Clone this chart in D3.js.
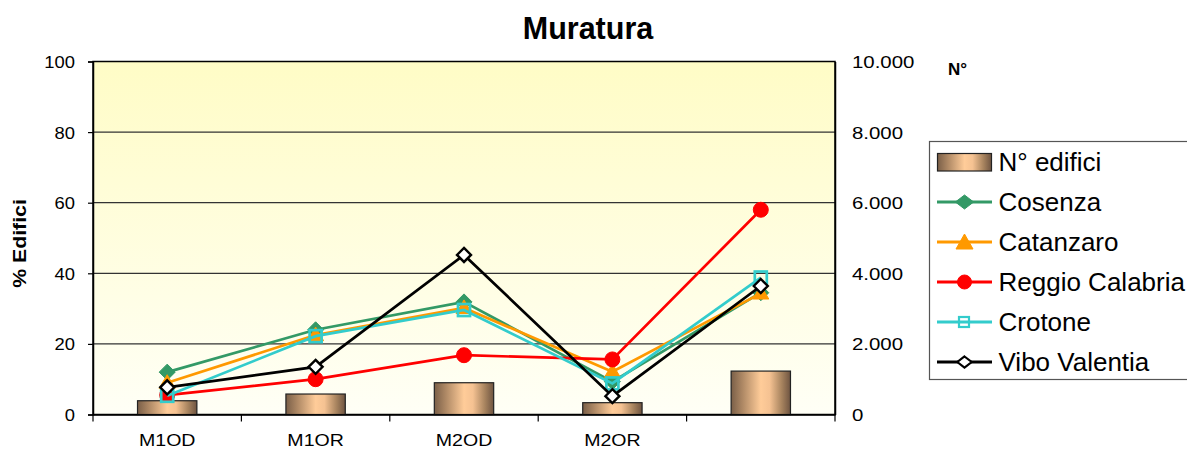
<!DOCTYPE html>
<html><head><meta charset="utf-8">
<script src="https://cdn.jsdelivr.net/npm/d3@7"></script>
<style>body{margin:0;background:#fff}svg{display:block;font-family:"Liberation Sans",Arial,sans-serif}</style>
</head><body><svg id="c" width="1187" height="451"></svg>
<script>
const categories = ["M1OD","M1OR","M2OD","M2OR",""];
const nEdifici = [390, 580, 900, 335, 1230];
const cosenza = [12.0, 24.0, 31.9, 9.3, 34.5];
const catanzaro = [9.0, 22.5, 30.2, 12.1, 34.3];
const reggio = [5.5, 10.0, 16.8, 15.6, 58.0];
const crotone = [5.3, 22.2, 29.6, 8.8, 38.8];
const vibo = [7.7, 13.5, 45.2, 5.2, 36.4];
const leftTicks = [0,20,40,60,80,100];
const rightTicks = [0,2000,4000,6000,8000,10000];

const series = [
  {name:"Cosenza", values:cosenza, color:"#339966", marker:"diamond", fill:"#339966"},
  {name:"Catanzaro", values:catanzaro, color:"#FF9900", marker:"triangle", fill:"#FF9900"},
  {name:"Reggio Calabria", values:reggio, color:"#FF0000", marker:"circle", fill:"#FF0000"},
  {name:"Crotone", values:crotone, color:"#33CCCC", marker:"square", fill:"none"},
  {name:"Vibo Valentia", values:vibo, color:"#000000", marker:"diamond", fill:"#FFFFFF"}
];

const svg = d3.select("#c");
const L=93, R=835, T=61.5, B=414.5;
const x = d3.scaleBand().domain(d3.range(categories.length)).range([L,R]);
const y = d3.scaleLinear().domain([0,100]).range([B,T]);
const y2 = d3.scaleLinear().domain([0,10000]).range([B,T]);

function stretch(sel, f){
  sel.each(function(){const w=this.getComputedTextLength(); if(w>0){d3.select(this).attr("textLength",w*f).attr("lengthAdjust","spacingAndGlyphs");}});
}

const defs = svg.append("defs");
const bg = defs.append("linearGradient").attr("id","bg").attr("x1",0).attr("y1",0).attr("x2",0).attr("y2",1);
bg.append("stop").attr("offset","0%").attr("stop-color","#FFFCC6");
bg.append("stop").attr("offset","100%").attr("stop-color","#FFFFF6");
const bar = defs.append("linearGradient").attr("id","bar").attr("x1",0).attr("y1",0).attr("x2",1).attr("y2",0);
[["0%","#7A5F48"],["20%","#B08A66"],["50%","#FFCC99"],["65%","#F5C292"],["85%","#A8845F"],["100%","#6E5441"]].forEach(s=>bar.append("stop").attr("offset",s[0]).attr("stop-color",s[1]));

svg.append("rect").attr("x",L).attr("y",T).attr("width",R-L).attr("height",B-T).attr("fill","url(#bg)");

// gridlines
svg.append("g").selectAll("line").data(leftTicks.filter(d=>d>0&&d<100)).join("line")
  .attr("x1",L).attr("x2",R).attr("y1",d=>y(d)).attr("y2",d=>y(d)).attr("stroke","#333").attr("stroke-width",1.2);
svg.append("rect").attr("x",L).attr("y",T).attr("width",R-L).attr("height",B-T).attr("fill","none").attr("stroke","#000").attr("stroke-width",1.5);

// bars
svg.append("g").selectAll("rect").data(nEdifici).join("rect")
  .attr("x",(d,i)=>x(i)+x.bandwidth()*0.3).attr("width",x.bandwidth()*0.4)
  .attr("y",d=>y2(d)).attr("height",d=>B-y2(d))
  .attr("fill","url(#bar)").attr("stroke","#222").attr("stroke-width",1.2);

// axes
const axL = svg.append("g").attr("transform",`translate(${L},0)`).call(d3.axisLeft(y).tickValues(leftTicks).tickSize(5).tickPadding(13));
const axR = svg.append("g").attr("transform",`translate(${R},0)`).call(d3.axisRight(y2).tickValues(rightTicks).tickSize(0).tickPadding(17)
  .tickFormat(d=>d3.format(",")(d).replace(/,/g,".")));
const axB = svg.append("g").attr("transform",`translate(0,${B})`).call(d3.axisBottom(x).tickFormat(i=>categories[i]).tickSize(0).tickPadding(19));
[axL,axR,axB].forEach(a=>{a.select(".domain").attr("stroke","#000").attr("stroke-width",1.5);a.selectAll("line").attr("stroke","#000").attr("stroke-width",1.2);a.selectAll("text").attr("font-size",17).attr("fill","#000").attr("font-family","Liberation Sans, Arial, sans-serif");});
axL.selectAll("text").attr("dy","0.35em");
axR.selectAll("text").attr("dy","0.35em");
stretch(axL.selectAll("text"),1.08);
stretch(axR.selectAll("text"),1.2);
stretch(axB.selectAll("text"),1.15);
// category boundary ticks
svg.append("g").selectAll("line").data(d3.range(categories.length+1)).join("line")
  .attr("x1",i=>L+i*x.step()).attr("x2",i=>L+i*x.step()).attr("y1",B).attr("y2",B+7).attr("stroke","#000").attr("stroke-width",1.2);

// lines
const line = d3.line().x((d,i)=>x(i)+x.bandwidth()/2).y(d=>y(d));
function marker(g, type, cx, cy, r){
  if(type==="diamond"){g.append("path").attr("d",`M${cx},${cy-r}L${cx+r},${cy}L${cx},${cy+r}L${cx-r},${cy}Z`);}
  else if(type==="triangle"){const t=8;g.append("path").attr("d",`M${cx},${cy-t}L${cx+t},${cy+t*0.7}L${cx-t},${cy+t*0.7}Z`);}
  else if(type==="circle"){g.append("circle").attr("cx",cx).attr("cy",cy).attr("r",7.5);}
  else if(type==="square"){g.append("rect").attr("x",cx-6).attr("y",cy-6).attr("width",12).attr("height",12);}
}
series.forEach(s=>{
  const g = svg.append("g");
  g.append("path").datum(s.values).attr("d",line).attr("fill","none").attr("stroke",s.color).attr("stroke-width",2.7);
  const mg = g.append("g").attr("fill",s.fill).attr("stroke",s.color)
    .attr("stroke-width", s.marker==="square"?2.7:(s.name==="Vibo Valentia"?2.4:1));
  s.values.forEach((v,i)=>marker(mg,s.marker,x(i)+x.bandwidth()/2,y(v),s.name==="Vibo Valentia"?7:8));
});

// titles
svg.append("text").attr("x",588).attr("y",38.5).attr("text-anchor","middle").attr("font-size",30.5).attr("font-weight","bold").text("Muratura");
const yt = svg.append("text").attr("transform","translate(26,243.5) rotate(-90)").attr("text-anchor","middle").attr("font-size",19).attr("font-weight","bold").text("% Edifici");
stretch(yt,1.12);
svg.append("text").attr("x",948).attr("y",75).attr("font-size",17).attr("font-weight","bold").text("N°");

// legend
const lg = svg.append("g");
lg.append("rect").attr("x",929.5).attr("y",141.5).attr("width",300).attr("height",238).attr("fill","#fff").attr("stroke","#555").attr("stroke-width",1.2);
const items = [{name:"N° edifici",bar:true}].concat(series);
items.forEach((s,i)=>{
  const cy = 162 + i*40;
  if(s.bar){
    lg.append("rect").attr("x",937.5).attr("y",cy-8.5).attr("width",54).attr("height",17.5).attr("fill","url(#bar)").attr("stroke","#222").attr("stroke-width",1.2);
  } else {
    lg.append("line").attr("x1",937).attr("x2",992).attr("y1",cy).attr("y2",cy).attr("stroke",s.color).attr("stroke-width",2.8);
    const mg = lg.append("g").attr("fill",s.fill).attr("stroke",s.color).attr("stroke-width", s.marker==="square"?2.2:(s.name==="Vibo Valentia"?2.2:1));
    if(s.marker==="square") mg.append("rect").attr("x",959).attr("y",cy-5).attr("width",10).attr("height",10);
    else if(s.marker==="circle") mg.append("circle").attr("cx",964.5).attr("cy",cy).attr("r",7);
    else if(s.marker==="triangle") mg.append("path").attr("d",`M964.5,${cy-8}L973,${cy+7}L956,${cy+7}Z`);
    else { const r=s.name==="Vibo Valentia"?5.5:7; mg.append("path").attr("d",`M964.5,${cy-r}L${964.5+r*1.3},${cy}L964.5,${cy+r}L${964.5-r*1.3},${cy}Z`); }
  }
  lg.append("text").attr("x",998.5).attr("y",cy).attr("dy","0.36em").attr("font-size",26).text(s.name);
});
</script></body></html>
